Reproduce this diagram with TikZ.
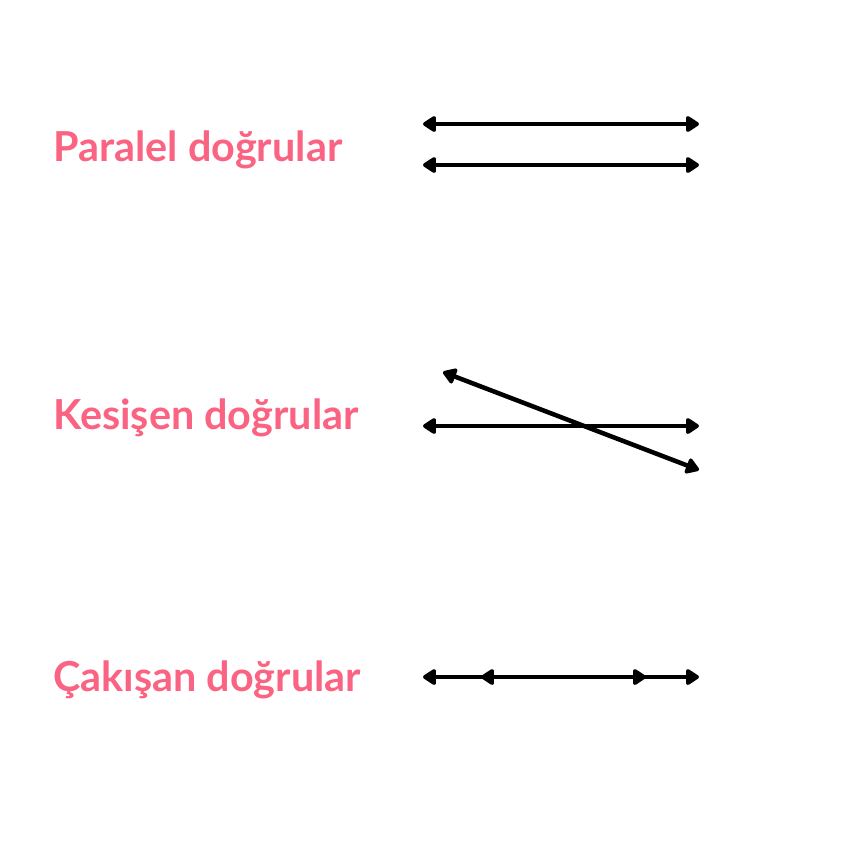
\documentclass[tikz,border=0pt]{standalone}
\usepackage{fontspec}
\setmainfont{Lato}
\usetikzlibrary{arrows.meta}
\definecolor{pinktxt}{HTML}{FA6482}
\tikzset{
  lbl/.style={anchor=base west, inner sep=0pt, text=pinktxt, font=\fontsize{31}{31}\selectfont\bfseries},
  tip/.tip={Triangle[length=11pt,width=13.5pt,round]},
  ln/.style={line width=3.4pt, tip-tip},
  tipl/.style={line width=3.4pt, tip-},
  tipr/.style={line width=3.4pt, -tip},
}
\begin{document}
\begin{tikzpicture}[x=0.75pt,y=-0.75pt]
\useasboundingbox (0,0) rectangle (850,850);
\node[lbl] (t1) at (53,161) {Paralel doğrular};
\node[lbl] (t2) at (53,429) {Kesişen doğrular};
\node[lbl] (t3) at (53,691) {Çakışan doğrular};
% parallel
\coordinate (p1a) at (423,124); \coordinate (p1b) at (699,124);
\coordinate (p2a) at (423,165); \coordinate (p2b) at (699,165);
\draw[ln] (p1a) -- (p1b);
\draw[ln] (p2a) -- (p2b);
% intersecting
\coordinate (k1a) at (423,426); \coordinate (k1b) at (699,426);
\coordinate (k2a) at (443,372); \coordinate (k2b) at (699,470);
\draw[ln] (k1a) -- (k1b);
\draw[ln] (k2a) -- (k2b);
% coincident
\coordinate (c1a) at (423,677); \coordinate (c1b) at (699,677);
\coordinate (c2a) at (481,677); \coordinate (c2b) at (646,677);
\coordinate (cm) at (560,677);
\draw[ln] (c1a) -- (c1b);
\draw[tipl] (c2a) -- (cm);
\draw[tipr] (cm) -- (c2b);
\end{tikzpicture}
\end{document}
